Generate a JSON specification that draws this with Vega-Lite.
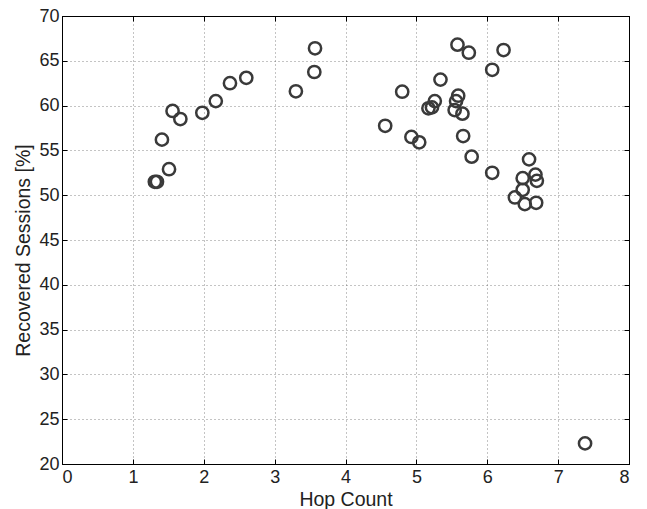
{
  "$schema": "https://vega.github.io/schema/vega-lite/v6.json",
  "width": 567,
  "height": 448,
  "autosize": {"type": "none"},
  "padding": {"left": 62, "top": 16, "right": 18, "bottom": 45},
  "background": "white",
  "config": {
    "view": {"stroke": "#000", "strokeWidth": 1},
    "font": "Liberation Sans",
    "axis": {
      "domainColor": "#000",
      "domainWidth": 1,
      "tickColor": "#000",
      "tickSize": -5,
      "labelFontSize": 18,
      "labelColor": "#222",
      "titleFontSize": 19.5,
      "titleFontWeight": "normal",
      "titleColor": "#222",
      "gridColor": "#555",
      "gridDash": [1, 3],
      "gridOpacity": 0.7,
      "gridWidth": 1
    }
  },
  "data": {
    "values": [
      {"hops": 1.31, "recovered": 51.5},
      {"hops": 1.34, "recovered": 51.5},
      {"hops": 1.41, "recovered": 56.2},
      {"hops": 1.51, "recovered": 52.9},
      {"hops": 1.56, "recovered": 59.4},
      {"hops": 1.67, "recovered": 58.5},
      {"hops": 1.98, "recovered": 59.2},
      {"hops": 2.17, "recovered": 60.5},
      {"hops": 2.37, "recovered": 62.5},
      {"hops": 2.60, "recovered": 63.1},
      {"hops": 3.30, "recovered": 61.6},
      {"hops": 3.56, "recovered": 63.75},
      {"hops": 3.57, "recovered": 66.4},
      {"hops": 5.58, "recovered": 66.8},
      {"hops": 5.74, "recovered": 65.9},
      {"hops": 6.23, "recovered": 66.2},
      {"hops": 6.07, "recovered": 64.0},
      {"hops": 5.34, "recovered": 62.9},
      {"hops": 4.80, "recovered": 61.55},
      {"hops": 5.59, "recovered": 61.1},
      {"hops": 5.56, "recovered": 60.5},
      {"hops": 5.26, "recovered": 60.5},
      {"hops": 5.17, "recovered": 59.7},
      {"hops": 5.22, "recovered": 59.8},
      {"hops": 5.54, "recovered": 59.5},
      {"hops": 5.65, "recovered": 59.1},
      {"hops": 4.56, "recovered": 57.75},
      {"hops": 5.66, "recovered": 56.6},
      {"hops": 4.93, "recovered": 56.5},
      {"hops": 5.04, "recovered": 55.9},
      {"hops": 5.78, "recovered": 54.3},
      {"hops": 6.07, "recovered": 52.5},
      {"hops": 6.59, "recovered": 54.0},
      {"hops": 6.50, "recovered": 51.9},
      {"hops": 6.68, "recovered": 52.3},
      {"hops": 6.70, "recovered": 51.6},
      {"hops": 6.50, "recovered": 50.6},
      {"hops": 6.39, "recovered": 49.75},
      {"hops": 6.53, "recovered": 49.0},
      {"hops": 6.69, "recovered": 49.15},
      {"hops": 7.38, "recovered": 22.3}
    ]
  },
  "layer": [
    {
      "mark": {"type": "point", "shape": "circle", "filled": false, "size": 150, "strokeWidth": 2.5, "color": "#3a3a3a", "opacity": 1},
      "encoding": {
        "x": {
          "field": "hops", "type": "quantitative",
          "scale": {"domain": [0, 8], "nice": false, "zero": false},
          "axis": {"values": [0,1,2,3,4,5,6,7,8], "title": "Hop Count", "labelPadding": 9, "titlePadding": 4, "grid": true}
        },
        "y": {
          "field": "recovered", "type": "quantitative",
          "scale": {"domain": [20, 70], "nice": false, "zero": false},
          "axis": {"values": [20,25,30,35,40,45,50,55,60,65,70], "title": "Recovered Sessions [%]", "labelPadding": 8, "titlePadding": 5, "titleY": 234, "grid": true}
        }
      }
    },
    {
      "mark": {"type": "point", "opacity": 0},
      "encoding": {
        "x": {
          "field": "hops", "type": "quantitative",
          "scale": {"domain": [0, 8], "nice": false, "zero": false},
          "axis": {"orient": "top", "values": [0,1,2,3,4,5,6,7,8], "labels": false, "title": null, "grid": false}
        },
        "y": {
          "field": "recovered", "type": "quantitative",
          "scale": {"domain": [20, 70], "nice": false, "zero": false},
          "axis": {"orient": "right", "values": [20,25,30,35,40,45,50,55,60,65,70], "labels": false, "title": null, "grid": false}
        }
      }
    }
  ],
  "resolve": {"axis": {"x": "independent", "y": "independent"}}
}
